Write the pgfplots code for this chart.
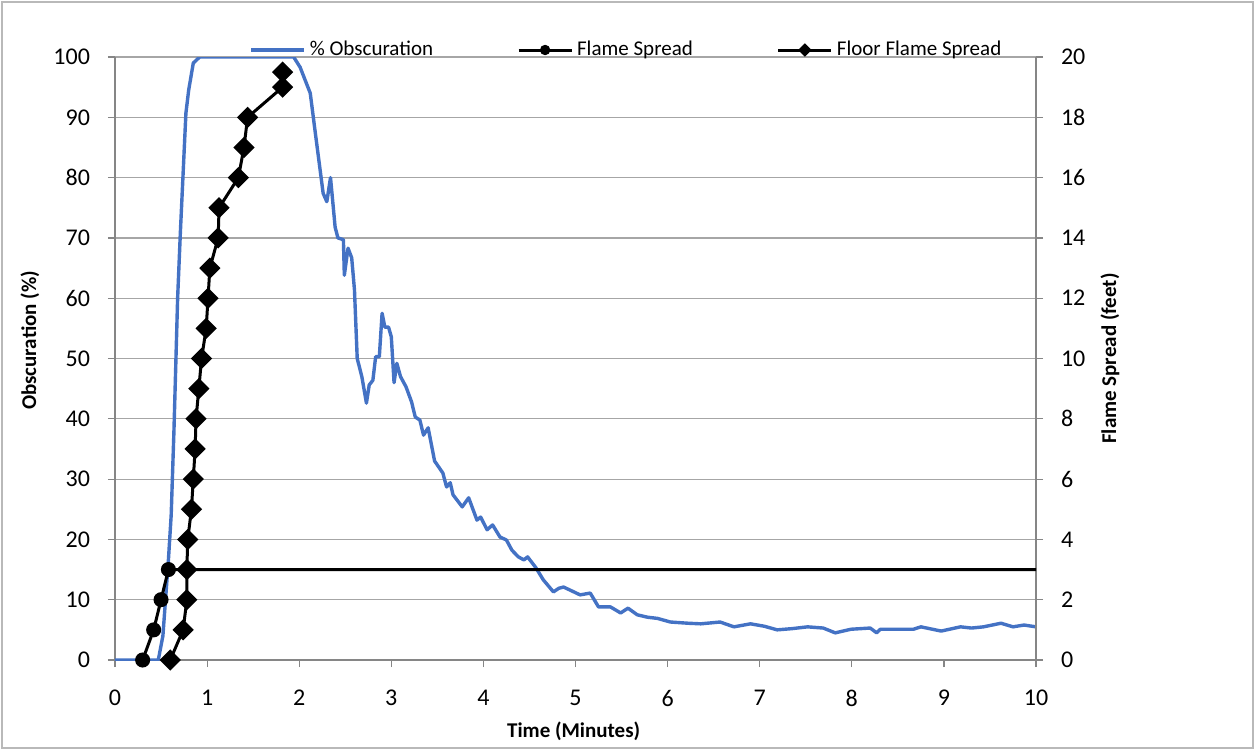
\documentclass[border=0pt]{standalone}
\usepackage{fontspec}
\setmainfont{Carlito}
\usepackage{pgfplots}
\pgfplotsset{compat=1.18}

\definecolor{obsblue}{HTML}{4472C4}
\definecolor{gridgray}{HTML}{A6A6A6}
\definecolor{axisgray}{HTML}{868686}

\pgfplotsset{
  common/.style={
    scale only axis,
    width=460.5pt, height=301.5pt,
    xmin=0, xmax=10,
    tick align=outside,
    major tick length=3.5pt,
    tick style={draw=axisgray, line width=0.6pt},
    axis line style={draw=axisgray, line width=0.6pt, -},
    every outer x axis line/.append style={-},
    every outer y axis line/.append style={-},
    tick label style={font=\fontsize{12}{14}\selectfont},
    /pgf/number format/assume math mode=true,
    label style={font=\bfseries\fontsize{10.5}{12}\selectfont},
  },
}

\begin{document}
\begin{tikzpicture}

% outer chart frame
\draw[gray!55, line width=0.6pt] (-56.5pt,-44pt) rectangle (569pt,329pt);
\useasboundingbox (-57.5pt,-45.5pt) rectangle (571.5pt,330pt);

%%%%%%%%%%%%%%%%%%%%%%%%%%% Left axis: obscuration %%%%%%%%%%%%%%%%%%%%%%%%%%%
\begin{axis}[common,
  axis x line*=bottom, axis y line*=left,
  ymin=0, ymax=100,
  xtick={0,1,...,10},
  ytick={0,10,...,100},
  ymajorgrids=true,
  grid style={draw=gridgray, line width=0.6pt},
  yticklabel style={xshift=-5.5pt},
  xticklabel style={yshift=-8pt},
  xlabel={Time (Minutes)},
  ylabel={Obscuration (\%)},
  xlabel style={at={(axis description cs:0.498,0)}, anchor=center, yshift=-35.5pt},
  ylabel style={at={([xshift=-42.5pt]axis description cs:0,0.53)}, anchor=center},
]
\addplot[obsblue, line width=1.7pt, line join=round, no marks] coordinates {
(0,0) (0.47,0) (0.52,4) (0.58,16.6) (0.61,24) (0.64,38) (0.68,60) (0.71,71)
(0.77,90.7) (0.80,94.5) (0.85,99) (0.92,100) (1.94,100) (2.01,98.3) (2.12,94)
(2.17,88) (2.26,77.4) (2.30,76) (2.34,80) (2.39,71.8) (2.42,70) (2.48,69.7)
(2.49,63.8) (2.53,68.3) (2.57,66.7) (2.60,61.4) (2.63,50) (2.68,47) (2.73,42.6)
(2.76,45.6) (2.80,46.4) (2.83,50.3) (2.87,50.3) (2.90,57.5) (2.93,55.2)
(2.97,55.2) (3.00,53.6) (3.03,46) (3.06,49.2) (3.10,47) (3.16,45.3) (3.22,42.8)
(3.26,40.3) (3.31,39.8) (3.35,37.3) (3.40,38.5) (3.47,33) (3.56,31) (3.60,28.7)
(3.64,29.4) (3.67,27.4) (3.77,25.4) (3.84,26.9) (3.93,23.2) (3.97,23.7)
(4.04,21.6) (4.10,22.4) (4.18,20.4) (4.25,19.9) (4.31,18.2) (4.38,17.1)
(4.44,16.6) (4.48,17.1) (4.57,15.3) (4.65,13.3) (4.76,11.3) (4.82,11.9)
(4.87,12.1) (4.94,11.6) (5.05,10.8) (5.16,11.1) (5.25,8.8) (5.38,8.8)
(5.49,7.8) (5.57,8.6) (5.67,7.5) (5.78,7.1) (5.89,6.9) (6.03,6.3) (6.22,6.1)
(6.36,6.0) (6.57,6.3) (6.72,5.5) (6.90,6.0) (7.05,5.6) (7.19,5.0) (7.35,5.2)
(7.52,5.5) (7.69,5.3) (7.82,4.5) (7.99,5.1) (8.20,5.3) (8.27,4.5) (8.31,5.1)
(8.67,5.1) (8.75,5.5) (8.97,4.8) (9.18,5.5) (9.30,5.3) (9.43,5.5) (9.62,6.1)
(9.75,5.5) (9.87,5.8) (10,5.5)
};
\end{axis}

%%%%%%%%%%%%%%%%%%%%%%%%%%% Right axis: flame spread %%%%%%%%%%%%%%%%%%%%%%%%%%%
\begin{axis}[common,
  axis x line=none, axis y line*=right,
  ymin=0, ymax=20,
  ytick={0,2,...,20},
  yticklabel style={xshift=5.5pt},
  ylabel={Flame Spread (feet)},
  ylabel style={at={([xshift=37pt]axis description cs:1,0.5)}, anchor=center, rotate=0},
  legend style={draw=none, fill=none, at={(0.139,1)}, anchor=west, yshift=3.5pt,
    legend columns=-1, font=\fontsize{10.5}{12}\selectfont,
    /tikz/every even column/.append style={column sep=40pt},
    nodes={inner xsep=2pt}},
  legend image code/.code={\draw[mark repeat=2, mark phase=2, #1]
    plot coordinates {(0pt,0pt) (13.25pt,0pt) (26.5pt,0pt)};},
]
\addlegendimage{obsblue, line width=1.7pt, no marks}
\addlegendentry{\% Obscuration}

\addplot[black, line width=1.5pt, mark=*, mark size=3pt, mark indices={1,2,3,4},
  legend image post style={mark size=1.8pt, mark indices={2}}] coordinates {
(0.30,0) (0.42,1) (0.50,2) (0.58,3) (10,3)
};
\addlegendentry{Flame Spread}

\addplot[black, line width=1.5pt, mark=square*, mark size=3pt,
  mark options={rotate=45, solid},
  legend image post style={mark size=1.6pt}] coordinates {
(0.60,0) (0.74,1) (0.78,2) (0.78,3) (0.79,4) (0.83,5) (0.85,6) (0.87,7)
(0.88,8) (0.91,9) (0.94,10) (0.99,11) (1.01,12) (1.03,13) (1.12,14) (1.13,15)
(1.34,16) (1.40,17) (1.44,18) (1.82,19) (1.82,19.5)
};
\addlegendentry{Floor Flame Spread}
\end{axis}

\end{tikzpicture}
\end{document}
